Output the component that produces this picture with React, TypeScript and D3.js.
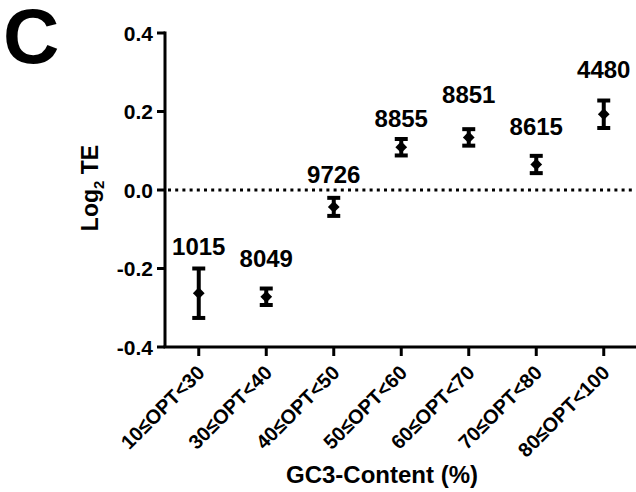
import React from "react";
import * as d3 from "d3";

const categories = ["10≤OPT<30", "30≤OPT<40", "40≤OPT<50", "50≤OPT<60", "60≤OPT<70", "70≤OPT<80", "80≤OPT<100"];
const means = [-0.263, -0.272, -0.043, 0.109, 0.134, 0.065, 0.193];
const errors = [0.063, 0.021, 0.023, 0.021, 0.021, 0.022, 0.035];
const counts = ["1015", "8049", "9726", "8855", "8851", "8615", "4480"];
const countLabelY = [-0.166, -0.195, 0.017, 0.161, 0.221, 0.14, 0.285];
const yTicks = [0.4, 0.2, 0.0, -0.2, -0.4];

const W = 636;
const H = 492;
const FONT = "'Liberation Sans', Arial, Helvetica, sans-serif";

export default function App() {
  const x = d3.scaleBand<string>().domain(categories).range([165, 637.5]).padding(0);
  const y = d3.scaleLinear().domain([-0.4, 0.4]).range([347, 33]);
  const cx = (c: string) => (x(c) as number) + x.bandwidth() / 2;
  const diamond = d3.symbol().type(d3.symbolDiamond2).size(88);
  const fmt = (t: number) => t.toFixed(1);

  return (
    <svg width={W} height={H} style={{ position: "absolute", left: 0, top: 0, background: "#fff" }} fontFamily={FONT} fontWeight="bold">
      <rect x={0} y={0} width={W} height={H} fill="#fff" />
      {/* panel letter */}
      <text x={3} y={63} fontSize={78} fill="#000">C</text>

      {/* zero reference line */}
      <line x1={x.range()[0] + 3} x2={632} y1={y(0)} y2={y(0)} stroke="#000" strokeWidth={3} strokeDasharray="3,4.2" />

      {/* y axis */}
      <line x1={165} x2={165} y1={y(0.4) - 1.5} y2={y(-0.4)} stroke="#000" strokeWidth={3} />
      {yTicks.map((t) => (
        <g key={t}>
          <line x1={157} x2={165} y1={y(t)} y2={y(t)} stroke="#000" strokeWidth={3} />
          <text x={153} y={y(t)} dy="0.36em" textAnchor="end" fontSize={21} fill="#000">
            {fmt(t)}
          </text>
        </g>
      ))}

      {/* x axis */}
      <line x1={163.5} x2={637} y1={y(-0.4)} y2={y(-0.4)} stroke="#000" strokeWidth={3} />
      {categories.map((c) => (
        <g key={c}>
          <line x1={cx(c)} x2={cx(c)} y1={y(-0.4)} y2={y(-0.4) + 9} stroke="#000" strokeWidth={3} />
          <text
            transform={`translate(${cx(c) + 7},${y(-0.4) + 27}) rotate(-45)`}
            textAnchor="end"
            fontSize={20}
            fill="#000"
          >
            {c}
          </text>
        </g>
      ))}

      {/* axis titles */}
      <text transform={`translate(98,${y(0) - 2}) rotate(-90)`} textAnchor="middle" fontSize={23} fill="#000">
        Log<tspan fontSize={15} dy={6}>2</tspan><tspan dy={-6}> TE</tspan>
      </text>
      <text x={382} y={483} textAnchor="middle" fontSize={24} fill="#000">GC3-Content (%)</text>

      {/* error bars and points */}
      {categories.map((c, i) => {
        const px = cx(c);
        const top = y(means[i] + errors[i]);
        const bot = y(means[i] - errors[i]);
        return (
          <g key={c}>
            <line x1={px} x2={px} y1={top} y2={bot} stroke="#000" strokeWidth={4} />
            <line x1={px - 6.5} x2={px + 6.5} y1={top} y2={top} stroke="#000" strokeWidth={4} />
            <line x1={px - 6.5} x2={px + 6.5} y1={bot} y2={bot} stroke="#000" strokeWidth={4} />
            <path d={diamond() as string} transform={`translate(${px},${y(means[i])})`} fill="#000" />
            <text x={px} y={y(countLabelY[i])} textAnchor="middle" fontSize={24} fill="#000">
              {counts[i]}
            </text>
          </g>
        );
      })}
    </svg>
  );
}
